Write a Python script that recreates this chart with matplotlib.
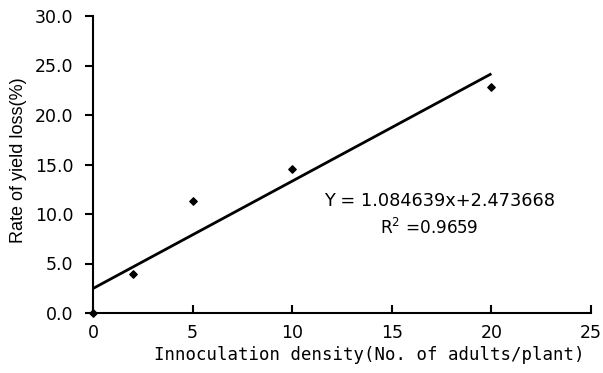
import matplotlib
matplotlib.use("Agg")
import matplotlib.pyplot as plt
import numpy as np

density = [0, 2, 5, 10, 20]
yield_loss = [0.0, 3.9, 11.3, 14.5, 22.8]
slope = 1.084639
intercept = 2.473668
fit_x = [0, 20]
x_ticks = [0, 5, 10, 15, 20, 25]
y_ticks = [0, 5, 10, 15, 20, 25, 30]

plt.rcParams['font.family'] = ['DejaVu Sans']

fig = plt.figure(figsize=(6.03, 3.73), dpi=100)
ax = fig.add_axes([93/603, (373-313)/373, (591-93)/603, (313-16)/373])

fx = np.array(fit_x)
ax.plot(fx, slope*fx + intercept, color='black', lw=2, solid_capstyle='butt', zorder=2)
ax.scatter(density, yield_loss, marker='D', s=14, color='black', zorder=3, clip_on=False)

ax.set_xlim(0, 25)
ax.set_ylim(0, 30)
ax.set_xticks(x_ticks)
ax.set_yticks(y_ticks)
ax.set_yticklabels([f"{v:.1f}" for v in y_ticks])
ax.spines['top'].set_visible(False)
ax.spines['right'].set_visible(False)
for s in ['left', 'bottom']:
    ax.spines[s].set_linewidth(1.5)
ax.tick_params(axis='y', direction='out', length=6, width=1.5, labelsize=12.5, pad=8)
ax.tick_params(axis='x', direction='in', length=6, width=1.5, labelsize=12.5, pad=8)

ax.set_xlabel("Innoculation density(No. of adults/plant)", fontsize=12.5,
              family='DejaVu Sans Mono', va='center')
ax.xaxis.set_label_coords(0.554, -0.1414)
ax.set_ylabel("Rate of yield loss(%)", fontsize=13, family='Liberation Sans', va='center')
ax.yaxis.set_label_coords(-0.1506, 0.515)

ax.text(17.42, 11.3, "Y = 1.084639x+2.473668", fontsize=12.8, ha='center', va='center')
ax.text(16.9, 8.6, "R$^2$ =0.9659", fontsize=12.2, ha='center', va='center')

fig.savefig("out.png", dpi=100)
